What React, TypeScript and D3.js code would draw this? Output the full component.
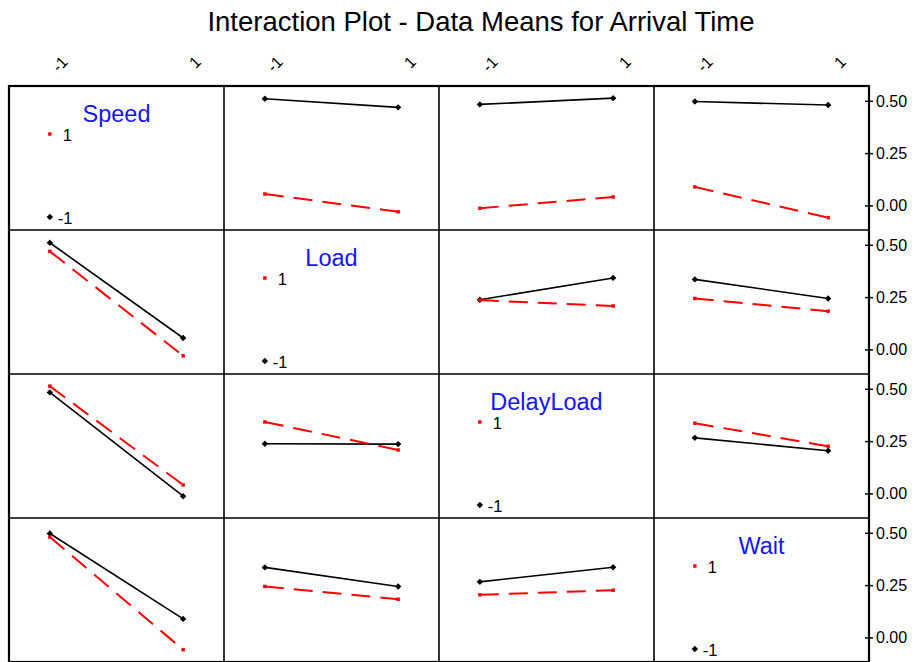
import React from "react";
import * as d3 from "d3";

// factors in matrix order
const factors = ["Speed", "Load", "DelayLoad", "Wait"];
const levels = [-1, 1];
const yTicks = [0, 0.25, 0.5];

// cell means for each pair (a, b): [a-1 b-1, a-1 b1, a1 b-1, a1 b1]
const speedLoad = [0.512, 0.471, 0.057, -0.028];
const speedDelay = [0.485, 0.515, -0.011, 0.043];
const speedWait = [0.499, 0.482, 0.091, -0.056];
const loadDelay = [0.24, 0.344, 0.238, 0.21];
const loadWait = [0.337, 0.246, 0.246, 0.185];
const delayWait = [0.268, 0.206, 0.338, 0.228];

const pairs = [
  { a: "Speed", b: "Load", m: speedLoad },
  { a: "Speed", b: "DelayLoad", m: speedDelay },
  { a: "Speed", b: "Wait", m: speedWait },
  { a: "Load", b: "DelayLoad", m: loadDelay },
  { a: "Load", b: "Wait", m: loadWait },
  { a: "DelayLoad", b: "Wait", m: delayWait },
];

const W = 916;
const H = 662;
const left = 9;
const top = 86;
const panelW = 215;
const panelH = 144;
const font = "Arial, 'Liberation Sans', sans-serif";

// lines factor = row factor, x factor = column factor
function panelLines(rowF: string, colF: string) {
  const p = pairs.find((d) => (d.a === rowF && d.b === colF) || (d.a === colF && d.b === rowF))!;
  return levels.map((_, li) =>
    levels.map((_, xi) => (p.a === rowF ? p.m[li * 2 + xi] : p.m[xi * 2 + li]))
  );
}

const App: React.FC = () => {
  const x = d3.scaleLinear().domain([-1.613, 1.613]).range([0, panelW]);
  const y = d3.scaleLinear().domain([-0.115, 0.573]).range([panelH, 0]);
  const fmt = d3.format(".2f");
  const diamond = d3.symbol(d3.symbolDiamond2, 26)() || "";
  const square = d3.symbol(d3.symbolSquare, 12)() || "";
  const line = d3
    .line<number>()
    .x((_, i) => x(levels[i]))
    .y((d) => y(d));

  const right = left + panelW * factors.length;

  return (
    <svg
      width={W}
      height={H}
      style={{ position: "absolute", left: 0, top: 0, background: "#fff" }}
      fontFamily={font}
    >
      <text x={481} y={31} textAnchor="middle" fontSize={27.5} fill="#000">
        Interaction Plot - Data Means for Arrival Time
      </text>

      {/* top level labels */}
      {factors.map((f, j) =>
        levels.map((lv) => {
          const tx = left + j * panelW + x(lv) + 19;
          return (
            <text
              key={f + lv}
              transform={`translate(${tx},63) rotate(-45)`}
              textAnchor="end"
              fontSize={16}
              fill="#000"
            >
              {lv}
            </text>
          );
        })
      )}

      {factors.map((rowF, i) =>
        factors.map((colF, j) => {
          const px = left + j * panelW;
          const py = top + i * panelH;
          if (i === j) {
            return (
              <g key={rowF + colF} transform={`translate(${px},${py})`}>
                <text x={panelW / 2} y={36} textAnchor="middle" fontSize={23.5} fill="#1414ff">
                  {rowF}
                </text>
                <path d={square} transform={`translate(${x(-1)},48)`} fill="#ff0000" />
                <text x={x(-1) + 13} y={54.5} fontSize={16.5} fill="#000">
                  1
                </text>
                <path d={diamond} transform={`translate(${x(-1)},131)`} fill="#000" />
                <text x={x(-1) + 8} y={137.5} fontSize={16.5} fill="#000">
                  -1
                </text>
              </g>
            );
          }
          const lines = panelLines(rowF, colF);
          return (
            <g key={rowF + colF} transform={`translate(${px},${py})`}>
              <path d={line(lines[0]) || ""} fill="none" stroke="#000" strokeWidth={1.6} />
              {lines[0].map((v, k) => (
                <path key={k} d={diamond} transform={`translate(${x(levels[k])},${y(v)})`} fill="#000" />
              ))}
              <path
                d={line(lines[1]) || ""}
                fill="none"
                stroke="#ff0000"
                strokeWidth={2}
                strokeDasharray="19,10"
              />
              {lines[1].map((v, k) => (
                <path key={k} d={square} transform={`translate(${x(levels[k])},${y(v)})`} fill="#ff0000" />
              ))}
            </g>
          );
        })
      )}

      {/* grid */}
      {d3.range(1, factors.length).map((k) => (
        <g key={"g" + k}>
          <line x1={left + k * panelW} x2={left + k * panelW} y1={top} y2={top + panelH * 4} stroke="#000" strokeWidth={1.6} />
          <line x1={left} x2={right} y1={top + k * panelH} y2={top + k * panelH} stroke="#000" strokeWidth={1.6} />
        </g>
      ))}
      <rect x={left} y={top} width={right - left} height={panelH * 4} fill="none" stroke="#000" strokeWidth={2.2} />

      {/* right axis */}
      {factors.map((f, i) =>
        yTicks.map((t) => {
          const ty = top + i * panelH + y(t);
          return (
            <g key={f + t}>
              <line x1={right - 4} x2={right + 4} y1={ty} y2={ty} stroke="#000" strokeWidth={1.5} />
              <text x={right + 7} y={ty + 5.5} fontSize={16} fill="#000">
                {fmt(t)}
              </text>
            </g>
          );
        })
      )}
    </svg>
  );
};

export default App;
